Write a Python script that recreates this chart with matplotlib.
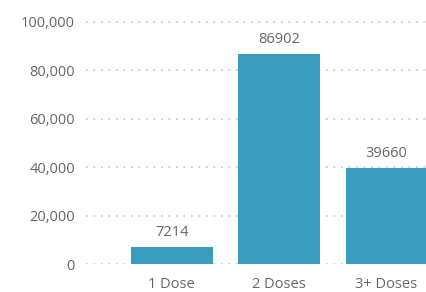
import matplotlib.pyplot as plt
from matplotlib.ticker import FuncFormatter

categories = ['1 Dose', '2 Doses', '3+ Doses']
counts = [7214, 86902, 39660]
yticks = [0, 20000, 40000, 60000, 80000, 100000]

bar_color = '#3a9cbf'
text_color = '#666666'

plt.rcParams['font.family'] = ['Open Sans', 'DejaVu Sans']

fig = plt.figure(figsize=(4.27, 2.92), dpi=100)
ax = fig.add_axes([86 / 427, 28 / 292, 341 / 427, 264 / 292])

x = range(len(categories))
bars = ax.bar(x, counts, width=0.76, color=bar_color, zorder=3)
for b, v in zip(bars, counts):
    ax.annotate(str(v), (b.get_x() + b.get_width() / 2, v), xytext=(0, 5),
                textcoords='offset points', ha='center', va='bottom',
                fontsize=10.5, color=text_color)

ax.set_xlim(-0.80, 2.38)
ax.set_ylim(0, 109090)
ax.set_yticks(yticks)
ax.yaxis.set_major_formatter(FuncFormatter(lambda v, p: f'{int(v):,}'))
ax.set_xticks(list(x))
ax.set_xticklabels(categories)
ax.tick_params(axis='y', length=0, pad=8, labelsize=10.5, labelcolor=text_color)
ax.tick_params(axis='x', length=0, pad=9, labelsize=10.5, labelcolor=text_color)
ax.grid(axis='y', color='#c4c4c4', linestyle=(0, (1, 3.5)), linewidth=1.2, zorder=0)
for s in ax.spines.values():
    s.set_visible(False)

fig.savefig('out.png', dpi=100)
